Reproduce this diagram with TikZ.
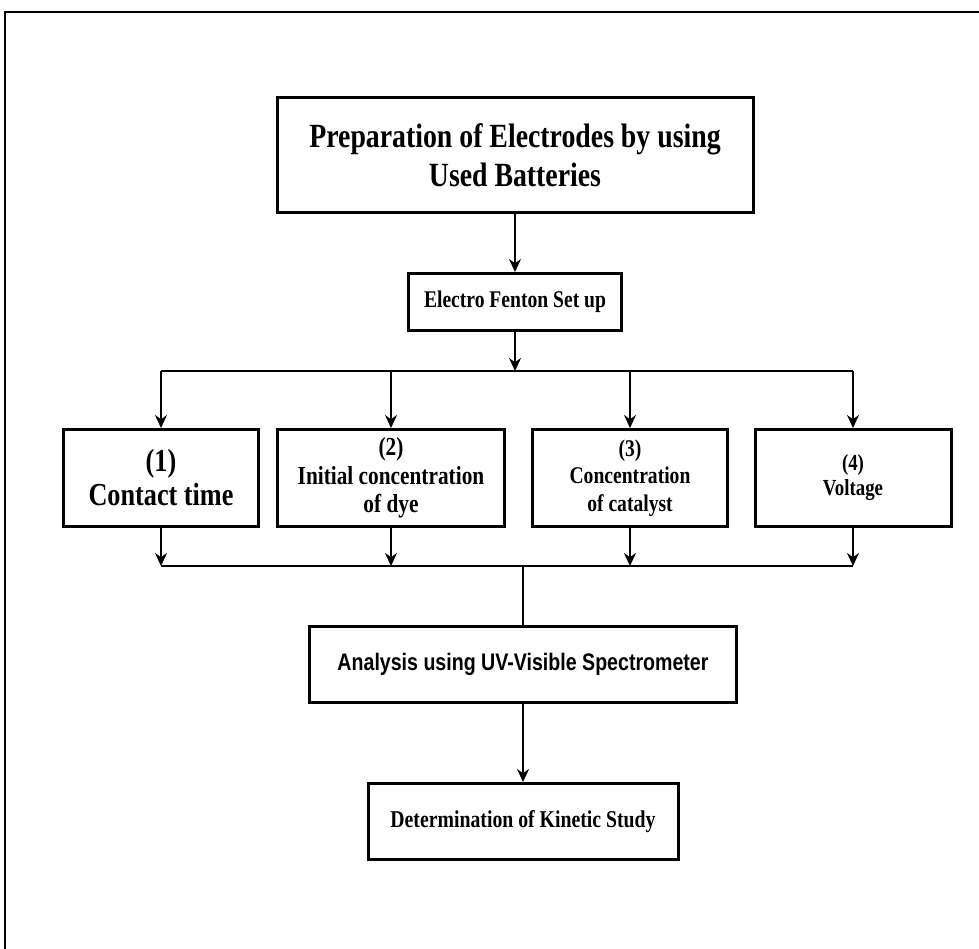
\documentclass[tikz,border=0pt]{standalone}
\usepackage{fontspec}
\newfontfamily\timesc[FakeStretch=0.82]{Liberation Serif}
\newfontfamily\arialc[FakeStretch=0.82]{Liberation Sans}
\usetikzlibrary{arrows.meta,positioning}

\begin{document}
\begin{tikzpicture}[x=1pt,y=-1pt]
	\useasboundingbox (0,0) rectangle (979,949);
	\draw[line width=2pt] (5,949) -- (5,12) -- (979,12);
	\begin{scope}[every node/.style={rectangle,draw,line width=3pt,inner sep=0pt,align=center,minimum height=97pt}]
		\node[minimum width=476pt,minimum height=115pt,font=\timesc\bfseries\fontsize{33.9}{39}\selectfont] (prep) at (515,155) {Preparation of Electrodes by using\\Used Batteries};
		\node[minimum width=213pt,minimum height=57pt,font=\timesc\bfseries\fontsize{23.9}{27}\selectfont] (fenton) at (515,302) {Electro Fenton Set up};
		\node[minimum width=195pt,font=\timesc\bfseries\fontsize{32}{34}\selectfont] (c1) at (161,478) {(1)\\Contact time};
		\node[minimum width=227pt,font=\timesc\bfseries\fontsize{26}{28.5}\selectfont] (c2) at (391,478) {(2)\\Initial concentration\\of dye};
		\node[minimum width=195pt,font=\timesc\bfseries\fontsize{23.9}{27.5}\selectfont] (c3) at (630,478) {(3)\\Concentration\\of catalyst};
		\node[minimum width=196pt,font=\timesc\bfseries\fontsize{23}{25}\selectfont] (c4) at (853,478) {(4)\\Voltage};
		\node[minimum width=427pt,minimum height=76pt,font=\arialc\bfseries\fontsize{23.9}{27}\selectfont] (uv) at (523,664.5) {Analysis using UV-Visible Spectrometer};
		\node[minimum width=310pt,minimum height=76pt,font=\timesc\bfseries\fontsize{24.1}{27}\selectfont] (kinetic) at (523,821.5) {Determination of Kinetic Study};
	\end{scope}
	\coordinate (split) at (515,371);
	\coordinate (merge) at (523,566);
	\begin{scope}[line width=1.5pt,>={Stealth[black,length=13pt,width=12pt]}]
		\draw[->] (prep) -- (fenton);
		\draw[->] (fenton) -- (split);
		\draw (split -| c1) -- (split -| c4);
		\foreach \n in {c1,c2,c3,c4}
			\draw[->] (\n |- split) -- (\n);
		\foreach \n in {c1,c2,c3,c4}
			\draw[->] (\n) -- (\n |- merge);
		\draw (merge -| c1) -- (merge -| c4);
		\draw (merge) -- (uv);
		\draw[->] (uv) -- (kinetic);
	\end{scope}
\end{tikzpicture}
\end{document}
